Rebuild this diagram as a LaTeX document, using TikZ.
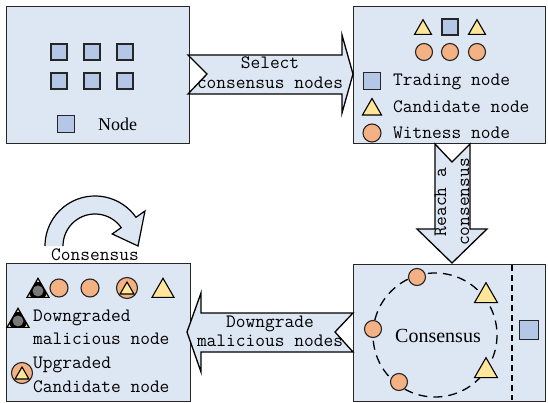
\documentclass[tikz,border=0pt]{standalone}
\usepackage{fontspec}
\setmainfont{Liberation Serif}
\usetikzlibrary{shapes.geometric,calc}
\definecolor{boxfill}{RGB}{221,230,243}
\definecolor{sqfill}{RGB}{180,199,231}
\definecolor{trifill}{RGB}{255,230,153}
\definecolor{circfill}{RGB}{244,177,131}
\definecolor{malgray}{RGB}{120,120,120}
\newcommand\monofnt{\ttfamily}
\begin{document}
\begin{tikzpicture}[x=1pt,y=-1pt,
  panel/.style={draw=black!85, line width=1.3pt, fill=boxfill, inner sep=0, anchor=north west},
  blockarrow/.style={draw=black, line width=1.3pt, fill=boxfill, line join=miter},
  sq/.style={rectangle, draw=black!85, line width=1.2pt, fill=sqfill, minimum size=#1, inner sep=0},
  sq/.default=16pt,
  circ/.style={circle, draw=black!85, line width=1.1pt, fill=circfill, minimum size=#1, inner sep=0},
  circ/.default=17pt,
  tri/.style={regular polygon, regular polygon sides=3, draw=black, line width=1.1pt, fill=trifill, minimum size=#1, inner sep=0},
  tri/.default=19.6pt,
  mal/.style={regular polygon, regular polygon sides=3, draw=black, line width=1.2pt, fill=trifill, minimum size=#1, inner sep=0,
    path picture={
      \coordinate (pc) at ($(path picture bounding box.south)!0.3333!(path picture bounding box.north)$);
      \fill[black] (pc) circle (0.36*#1);
      \fill[malgray] (pc) circle (0.215*#1);}},
  mal/.default=25.4pt,
  mono/.style={font=\monofnt\fontsize{18.9}{20}\selectfont, inner sep=0},
  serif/.style={font=\fontsize{18}{22}\selectfont, inner sep=0}
]
\useasboundingbox (0,0) rectangle (548,403);
\fill[white] (0,0) rectangle (548,403);

% panels
\node[panel, minimum width=183pt, minimum height=137pt] (b1) at (6,6) {};
\node[panel, minimum width=192pt, minimum height=137pt] (b2) at (353,6) {};
\node[panel, minimum width=184pt, minimum height=138pt] (b3) at (6,263) {};
\node[panel, minimum width=192pt, minimum height=137pt] (b4) at (353,264) {};

% box 1 contents
\foreach \i/\x in {1/59,2/92,3/125}{
  \node[sq] (s1\i) at (\x,52) {};
  \node[sq] (s2\i) at (\x,81) {};
}
\node[sq=17pt] (lg1) at (66,124) {};
\node[serif, anchor=west] (lt1) at (98,124) {Node};

% box 2 contents
\node[tri] (c2t1) at (423,29.5) {};
\node[sq] (c2s) at (450,27) {};
\node[tri] (c2t2) at (477,29.5) {};
\node[circ] (c2c1) at (424,52) {};
\node[circ] (c2c2) at (450,52) {};
\node[circ] (c2c3) at (477,52) {};
\node[sq=17pt] (lg2s) at (372,81) {};
\node[tri=22pt] (lg2t) at (372,109.5) {};
\node[circ=18pt] (lg2c) at (372,133) {};
\node[mono, anchor=base west] (lt2s) at (393,86) {Trading node};
\node[mono, anchor=base west] (lt2t) at (393,113) {Candidate node};
\node[mono, anchor=base west] (lt2c) at (393,139) {Witness node};

% box 4 contents
\draw[line width=1.3pt, dash pattern=on 9pt off 6pt] (435,335) circle[radius=62];
\draw[line width=1.2pt, dash pattern=on 6pt off 4pt] (512,265) -- (512,400);
\node[circ] (c4c1) at (417,277) {};
\node[circ] (c4c2) at (373,329) {};
\node[circ] (c4c3) at (399,382) {};
\node[tri=26.6pt] (c4t1) at (486,296) {};
\node[tri=26.6pt] (c4t2) at (486,371) {};
\node[sq=19pt] (c4s) at (529,330) {};
\node[font=\fontsize{20}{24}\selectfont, inner sep=0] (lt4) at (438,336) {Consensus};

% box 3 contents
\node[mal] (m1) at (38,291) {};
\node[circ=18pt] (c3c1) at (59,288) {};
\node[circ=18pt] (c3c2) at (90,288) {};
\node[circ=21pt] (u1) at (127,288) {};
\node[tri=16pt] (u1t) at (127,290) {};
\node[tri=25.4pt] (c3t) at (163,291) {};
\node[mal] (m2) at (18,321) {};
\node[circ=21pt] (u2) at (22,373) {};
\node[tri=16pt] (u2t) at (22,375) {};
\node[mono, anchor=west, align=left, font=\monofnt\fontsize{18.9}{23}\selectfont] (lt3a) at (33,327) {Downgraded\\malicious node};
\node[mono, anchor=west, align=left, font=\monofnt\fontsize{18.9}{24}\selectfont] (lt3b) at (33,375) {Upgraded\\Candidate node};

% consensus loop above box 3
\fill[boxfill] plot[domain=180:35, samples=40] ({95+50*cos(\x)}, {246-50*sin(\x)})
  -- ({95+61*cos(35)}, {246-61*sin(35)})
  -- ({95+43*cos(0)}, {246-43*sin(0)})
  -- ({95+21*cos(35)}, {246-21*sin(35)})
  -- plot[domain=35:180, samples=40] ({95+32*cos(\x)}, {246-32*sin(\x)}) -- cycle;
\draw[line width=1.2pt, line join=miter] plot[domain=180:35, samples=40] ({95+50*cos(\x)}, {246-50*sin(\x)})
  -- ({95+61*cos(35)}, {246-61*sin(35)})
  -- ({95+43*cos(0)}, {246-43*sin(0)})
  -- ({95+21*cos(35)}, {246-21*sin(35)})
  -- plot[domain=35:180, samples=40] ({95+32*cos(\x)}, {246-32*sin(\x)});
\node[mono] (lc) at (95,255) {Consensus};

% block arrows
\draw[blockarrow] (188,55) -- (342,55) -- (342,35) -- (353,74) -- (342,113) -- (342,94) -- (188,94) -- (207,74) -- cycle;
\node[mono, align=center] (ta1) at (270,73) {Select\\consensus nodes};

\draw[blockarrow] (435,144) -- (452,162) -- (470,144) -- (470,229) -- (487,229) -- (452,263) -- (417,229) -- (435,229) -- cycle;
\node[mono, align=center, rotate=90, font=\monofnt\fontsize{18.9}{23}\selectfont] (ta2) at (452,202) {Reach a\\consensus};

\draw[blockarrow] (353,313) -- (201,313) -- (201,293) -- (187,332) -- (201,372) -- (201,352) -- (353,352) -- (335,332) -- cycle;
\node[mono, align=center, font=\monofnt\fontsize{18.9}{19}\selectfont] (ta3) at (270,331) {Downgrade\\malicious nodes};
\end{tikzpicture}
\end{document}
